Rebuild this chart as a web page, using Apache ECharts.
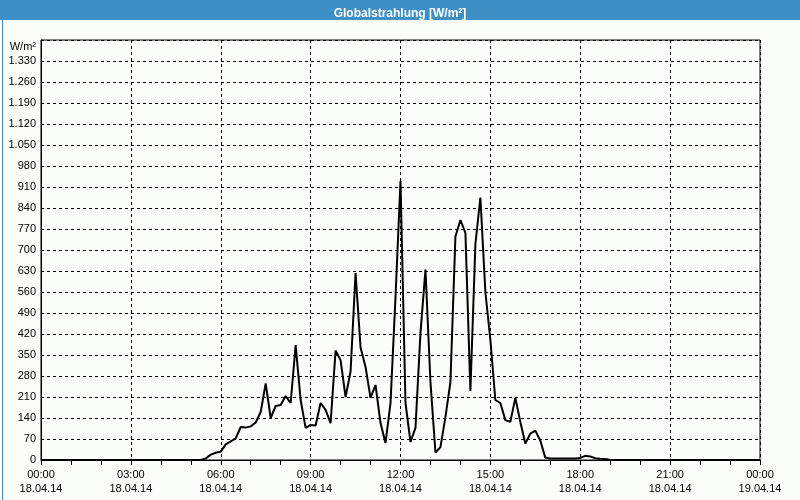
<!DOCTYPE html>
<html>
<head>
<meta charset="utf-8">
<script src="https://cdn.jsdelivr.net/npm/echarts@6/dist/echarts.min.js"></script>
<style>
html,body{margin:0;padding:0;background:#fbfdfb;}
#c{width:800px;height:500px;}
</style>
</head>
<body>
<div id="c"></div>
<script>
// Global radiation, W/m², sampled every 10 minutes from 18.04.14 00:00 to 19.04.14 00:00
var stepMinutes = 10;
var values = [
  // 00:00 - 05:20
  0,0,0,0,0,0, 0,0,0,0,0,0, 0,0,0,0,0,0, 0,0,0,0,0,0, 0,0,0,0,0,0, 0,0,0,
  // 05:30 - 05:50
  5,18,24,
  // 06:00 - 06:50
  28,52,62,72,110,108,
  // 07:00 - 07:50
  112,125,160,255,140,180,
  // 08:00 - 08:50
  183,213,190,383,200,107,
  // 09:00 - 09:50
  117,115,190,167,123,365,
  // 10:00 - 10:50
  333,210,295,623,375,310,
  // 11:00 - 11:50
  207,250,123,57,190,543,
  // 12:00 - 12:50
  930,190,60,107,423,635,
  // 13:00 - 13:50
  260,25,43,143,260,745,
  // 14:00 - 14:50
  800,757,230,720,875,560,
  // 15:00 - 15:50
  400,200,190,133,127,207,
  // 16:00 - 16:50
  127,55,88,98,65,8,
  // 17:00 - 17:50
  5,5,5,5,5,5,
  // 18:00 - 18:50
  7,14,12,6,4,3,
  // 19:00 - 23:50
  0,0,0,0,0,0, 0,0,0,0,0,0, 0,0,0,0,0,0, 0,0,0,0,0,0, 0,0,0,0,0,0,
  // 00:00 next day
  0
];
var xTickHours = ['00:00','03:00','06:00','09:00','12:00','15:00','18:00','21:00','00:00'];
var xTickDates = ['18.04.14','18.04.14','18.04.14','18.04.14','18.04.14','18.04.14','18.04.14','18.04.14','19.04.14'];
var yMax = 1400, yStep = 70;
var unitLabel = 'W/m²';
var titleText = 'Globalstrahlung [W/m²]';

var data = values.map(function(v, i){ return [i * stepMinutes, v]; });

function fmtNum(v){
  var s = String(v);
  return s.replace(/\B(?=(\d{3})+(?!\d))/g, '.');
}

var font = 'Liberation Sans, Arial, sans-serif';
var chart = echarts.init(document.getElementById('c'), null, {renderer:'canvas'});
chart.setOption({
  animation: false,
  backgroundColor: '#fbfdfb',
  graphic: [
    {type:'rect', left:0, top:0, shape:{width:800, height:20}, style:{fill:'#3d8fc6'}, z:-1},
    {type:'rect', left:0, top:0, shape:{width:799, height:499}, style:{fill:'none', stroke:'#3d8fc6', lineWidth:1}, z:-1}
  ],
  title: {
    text: titleText, left: 'center', top: 3,
    textStyle: {color:'#ffffff', fontFamily: font, fontSize: 12, fontWeight: 'bold'}
  },
  grid: {left: 41, right: 40, top: 40, bottom: 40, show: true, borderColor: '#000', borderWidth: 1, backgroundColor: 'transparent'},
  xAxis: {
    type: 'value', min: 0, max: 1440, interval: 180,
    axisLine: {show: true, lineStyle: {color: '#000', width: 1}},
    axisTick: {show: true, length: 5, lineStyle: {color: '#000'}},
    minorTick: {show: true, splitNumber: 3, length: 5, lineStyle: {color: '#000'}},
    splitLine: {show: true, lineStyle: {color: '#000', type: [3,3], width: 1}},
    axisLabel: {
      margin: 8, color: '#000', fontFamily: font, fontSize: 11, lineHeight: 14,
      formatter: function(v){ var k = Math.round(v/180); return xTickHours[k] + '\n' + xTickDates[k]; }
    }
  },
  yAxis: {
    type: 'value', min: 0, max: yMax, interval: yStep,
    axisLine: {show: true, lineStyle: {color: '#000', width: 1}},
    axisTick: {show: false},
    splitLine: {show: true, lineStyle: {color: '#000', type: [3,3], width: 1}},
    axisLabel: {
      margin: 5, color: '#000', fontFamily: font, fontSize: 11,
      formatter: function(v){ return v === yMax ? '{u|' + unitLabel + '}' : fmtNum(v); },
      rich: { u: {fontFamily: font, fontSize: 11, color: '#000', padding: [14, 0, 0, 0]} }
    }
  },
  series: [{
    type: 'line', data: data, showSymbol: false, symbol: 'none',
    lineStyle: {color: '#000', width: 2}, itemStyle: {color:'#000'}, z: 5
  }]
});
</script>
</body>
</html>
